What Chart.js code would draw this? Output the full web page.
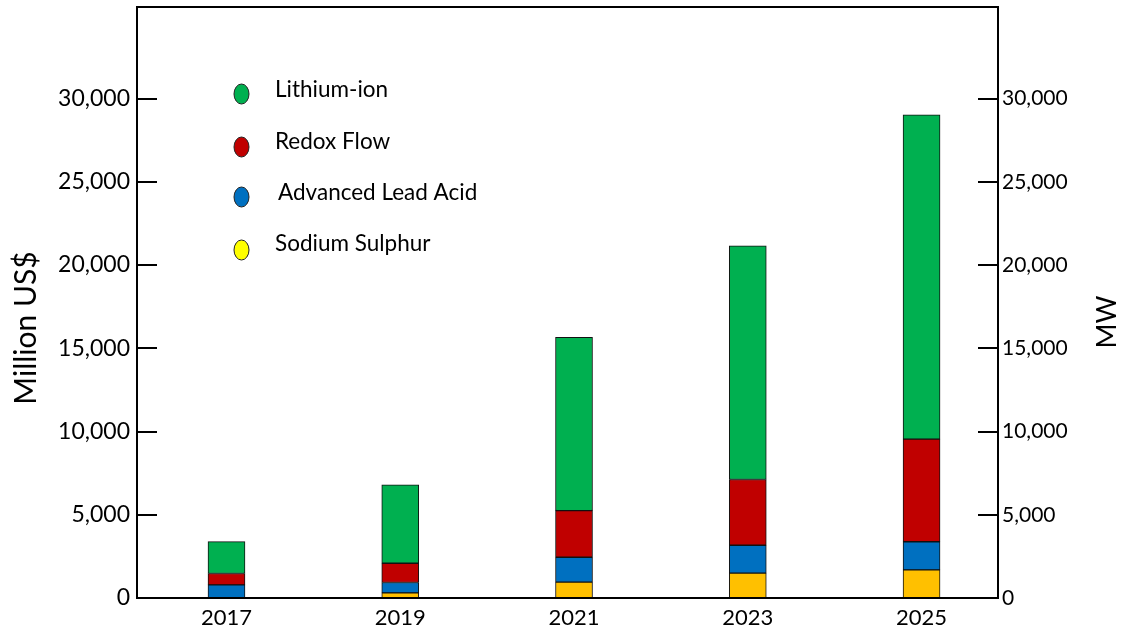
<!DOCTYPE html>
<html>
<head>
<meta charset="utf-8">
<script src="https://cdn.jsdelivr.net/npm/chart.js@4.4.1/dist/chart.umd.min.js"></script>
<style>
html,body{margin:0;padding:0;background:#fff;}
canvas{display:block;}
</style>
</head>
<body>
<canvas id="c" width="1122" height="631"></canvas>
<script>
const years = [2017, 2019, 2021, 2023, 2025];
const sodiumSulphur = [0, 310, 950, 1490, 1690];
const advancedLeadAcid = [790, 620, 1500, 1680, 1690];
const redoxFlow = [680, 1160, 2800, 3950, 6160];
const lithiumIon = [1920, 4710, 10410, 14030, 19490];
const yTicks = [0, 5000, 10000, 15000, 20000, 25000, 30000];
const seriesNames = ['Sodium Sulphur', 'Advanced Lead Acid', 'Redox Flow', 'Lithium-ion'];
const barColors = ['#FFC000', '#0070C0', '#C00000', '#00B050'];
const legendOrder = ['Lithium-ion', 'Redox Flow', 'Advanced Lead Acid', 'Sodium Sulphur'];
const legendColors = ['#00B050', '#C00000', '#0070C0', '#FFFF00'];
const FONT = 'Lato, "Open Sans", sans-serif';

const seriesValues = [sodiumSulphur, advancedLeadAcid, redoxFlow, lithiumIon];
const datasets = seriesValues.map((vals, i) => ({
  label: seriesNames[i],
  data: years.map((yr, j) => ({x: yr, y: vals[j]})),
  backgroundColor: barColors[i],
  borderColor: '#111',
  borderWidth: 1,
  borderSkipped: false,
  barThickness: 37,
  yAxisID: 'y'
}));

const decor = {
  id: 'decor',
  afterDraw(chart) {
    const ctx = chart.ctx;
    const a = chart.chartArea;
    const y = chart.scales.y;
    ctx.save();
    // plot frame
    ctx.strokeStyle = '#000';
    ctx.lineWidth = 2;
    ctx.strokeRect(a.left, a.top, a.right - a.left, a.bottom - a.top);
    // inner tick marks
    yTicks.forEach(v => {
      if (v === 0) return;
      const py = Math.round(y.getPixelForValue(v));
      ctx.beginPath();
      ctx.moveTo(a.left, py); ctx.lineTo(a.left + 20, py);
      ctx.moveTo(a.right - 20, py); ctx.lineTo(a.right, py);
      ctx.stroke();
    });
    // legend
    const ly = [94, 147, 197, 250];
    const ty = [90, 142, 193, 244];
    const tx = [275, 275, 278, 275];
    ctx.lineWidth = 1;
    ctx.font = '22.5px ' + FONT;
    ctx.textBaseline = 'middle';
    ctx.textAlign = 'left';
    legendOrder.forEach((name, i) => {
      ctx.beginPath();
      ctx.ellipse(241.5, ly[i], 7.5, 10, 0, 0, Math.PI * 2);
      ctx.fillStyle = legendColors[i];
      ctx.fill();
      ctx.strokeStyle = '#222';
      ctx.stroke();
      ctx.fillStyle = '#000';
      ctx.fillText(name, tx[i], ty[i]);
    });
    // axis titles (both read bottom-to-top)
    ctx.textAlign = 'center';
    ctx.fillStyle = '#000';
    ctx.save();
    ctx.font = '30px ' + FONT;
    ctx.translate(26, 328);
    ctx.rotate(-Math.PI / 2);
    ctx.fillText('Million US$', 0, 0);
    ctx.restore();
    ctx.save();
    ctx.font = '27px ' + FONT;
    ctx.translate(1107, 322);
    ctx.rotate(-Math.PI / 2);
    ctx.fillText('MW', 0, 0);
    ctx.restore();
    ctx.restore();
  }
};

const noPad = s => { s.paddingTop = 0; s.paddingBottom = 0; };

new Chart(document.getElementById('c'), {
  type: 'bar',
  data: { datasets },
  options: {
    responsive: false,
    animation: false,
    devicePixelRatio: 1,
    layout: { padding: { top: 7, left: 0, right: 0, bottom: 0 } },
    plugins: { legend: { display: false }, tooltip: { enabled: false } },
    scales: {
      x: {
        type: 'linear',
        stacked: true,
        offset: false,
        min: 2015.97,
        max: 2025.88,
        grid: { display: false, drawTicks: false },
        border: { display: false },
        afterBuildTicks: s => { s.ticks = years.map(v => ({ value: v })); },
        afterFit: s => { s.height = 33; s.paddingLeft = 0; s.paddingRight = 0; },
        ticks: {
          padding: 7,
          color: '#000',
          font: { family: FONT, size: 22 },
          callback: v => String(v)
        }
      },
      y: {
        position: 'left',
        stacked: true,
        min: 0,
        max: 35500,
        grid: { display: false, drawTicks: false },
        border: { display: false },
        afterBuildTicks: s => { s.ticks = yTicks.map(v => ({ value: v })); },
        afterFit: s => { s.width = 137; noPad(s); },
        ticks: {
          padding: 7,
          color: '#000',
          font: { family: FONT, size: 23 },
          callback: v => v.toLocaleString('en-US')
        }
      },
      y2: {
        position: 'right',
        min: 0,
        max: 35500,
        grid: { display: false, drawTicks: false },
        border: { display: false },
        afterBuildTicks: s => { s.ticks = yTicks.map(v => ({ value: v })); },
        afterFit: s => { s.width = 124; noPad(s); },
        ticks: {
          padding: 4,
          color: '#000',
          font: { family: FONT, size: 21 },
          callback: v => v.toLocaleString('en-US')
        }
      }
    }
  },
  plugins: [decor]
});
</script>
</body>
</html>
